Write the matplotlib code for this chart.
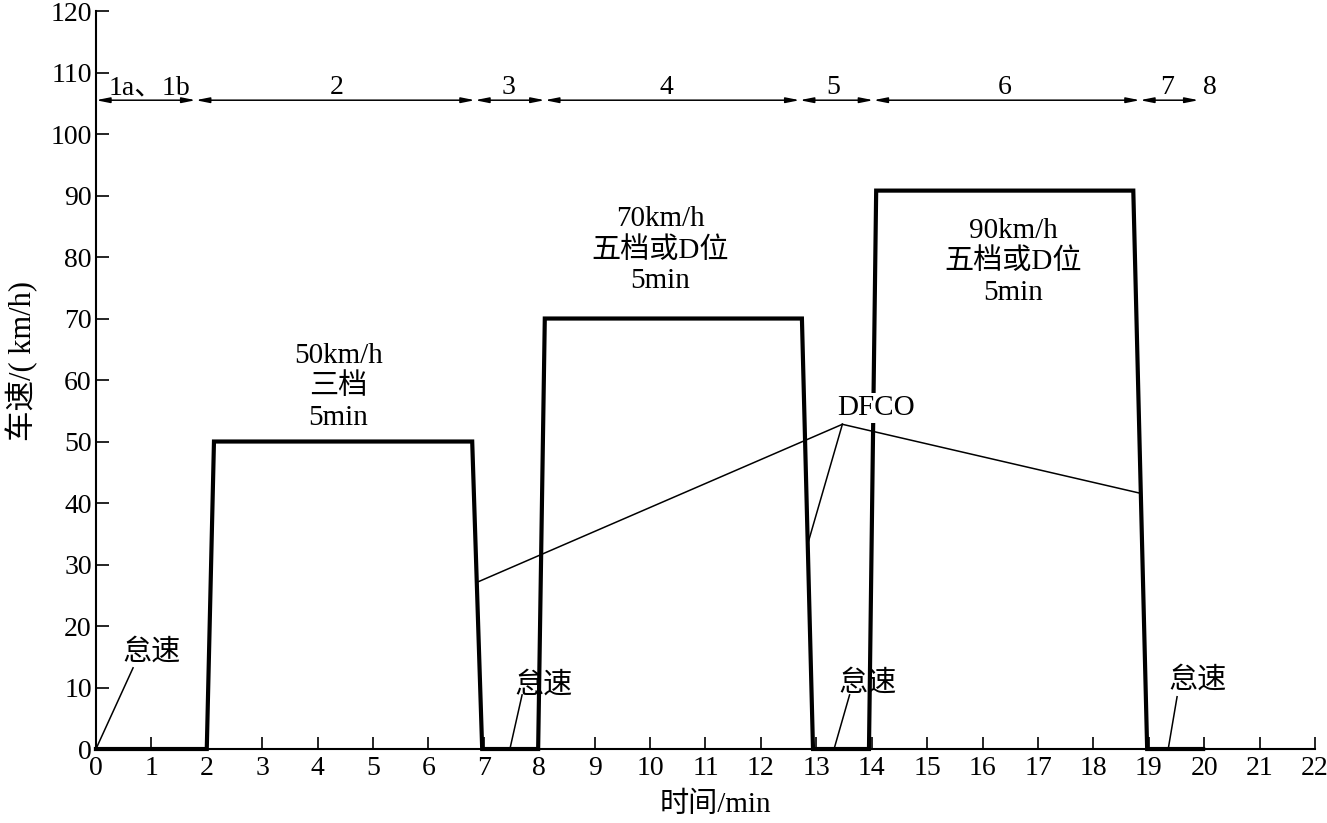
import matplotlib
matplotlib.use("Agg")
import matplotlib.pyplot as plt

plt.rcParams['font.family'] = ['Liberation Serif', 'Noto Sans CJK SC', 'DejaVu Sans']

# Speed profile (time in min, speed in km/h)
time = [0, 2.0, 2.13, 6.79, 6.97, 7.98, 8.1, 12.74, 12.94, 13.95, 14.08, 18.72, 18.97, 19.98]
speed = [0, 0, 50, 50, 0, 0, 70, 70, 0, 0, 90.8, 90.8, 0, 0]

# Phase segments on top
phase_bounds = [0, 1.8, 6.84, 8.1, 12.7, 14.03, 18.84, 19.9]
phase_labels = ["1a、1b", "2", "3", "4", "5", "6", "7"]
phase_label_x = [0.97, 4.35, 7.44, 10.3, 13.3, 16.4, 19.33]
phase_y = 105.5
last_label = "8"

# Steady-state block texts
block_texts = ["50km/h\n三档\n5min", "70km/h\n五档或D位\n5min", "90km/h\n五档或D位\n5min"]
block_x = [4.37, 10.18, 16.55]
block_y = [58.9, 81.1, 79.2]

# Idle annotations: text position and leader line
idle_text_x = [1.0, 8.07, 13.93, 19.87]
idle_text_y = [15.8, 10.4, 10.7, 11.2]
idle_line_start = [(0.0, 0.0), (7.47, 0.0), (13.32, 0.0), (19.35, 0.0)]
idle_line_end = [(0.67, 13.2), (7.69, 8.8), (13.6, 8.8), (19.51, 8.5)]

# DFCO leader lines
dfco_apex = (13.47, 52.8)
dfco_ends = [(6.9, 27.2), (12.85, 33.5), (18.84, 41.6)]
dfco_text_pos = (14.08, 55.5)

fig = plt.figure(figsize=(13.27, 8.23), dpi=100)
ax = fig.add_axes([0.0723, 0.0899, 0.9187, 0.8967])

ax.plot(time, speed, color='black', lw=3.0, solid_joinstyle='miter', clip_on=False, zorder=3)

for (sx, sy), (ex, ey) in zip(idle_line_start, idle_line_end):
    ax.plot([sx, ex], [sy, ey], color='black', lw=1.1)
for tx, ty in zip(idle_text_x, idle_text_y):
    ax.text(tx, ty, "怠速", ha='center', va='center', fontsize=21)

for ex, ey in dfco_ends:
    ax.plot([dfco_apex[0], ex], [dfco_apex[1], ey], color='black', lw=1.1)
ax.text(dfco_text_pos[0], dfco_text_pos[1], "DFCO", ha='center', va='center', fontsize=21,
        zorder=5, bbox=dict(facecolor='white', edgecolor='none', pad=1.5))

for tx, ty, t in zip(block_x, block_y, block_texts):
    ax.text(tx, ty, t, ha='center', va='center', fontsize=21, linespacing=1.22)

for i in range(len(phase_bounds) - 1):
    ax.annotate("", xy=(phase_bounds[i + 1], phase_y), xytext=(phase_bounds[i], phase_y),
                arrowprops=dict(arrowstyle='<|-|>,head_length=0.8,head_width=0.16',
                                color='black', lw=1.1, shrinkA=0, shrinkB=0))
for lx, lab in zip(phase_label_x, phase_labels):
    ax.text(lx, phase_y + 1.0, lab, ha='center', va='baseline', fontsize=20)
ax.text(20.1, phase_y + 1.0, last_label, ha='center', va='baseline', fontsize=20)

ax.set_xlim(0, 22)
ax.set_ylim(0, 120)
ax.set_xticks(range(0, 23))
ax.set_yticks(range(0, 121, 10))
ax.tick_params(direction='in', length=9, width=1.2, labelsize=20, pad=5)
ax.tick_params(axis='y', pad=3)
for s in ['top', 'right']:
    ax.spines[s].set_visible(False)
for s in ['left', 'bottom']:
    ax.spines[s].set_linewidth(1.5)

fig.text(22 / 1327, 1 - 361 / 823, "车速/( km/h)", rotation=90, ha='center', va='center', fontsize=22)
fig.text(715 / 1327, 1 - 805 / 823, "时间/min", ha='center', va='center', fontsize=21)

fig.savefig("out.png", dpi=100)
